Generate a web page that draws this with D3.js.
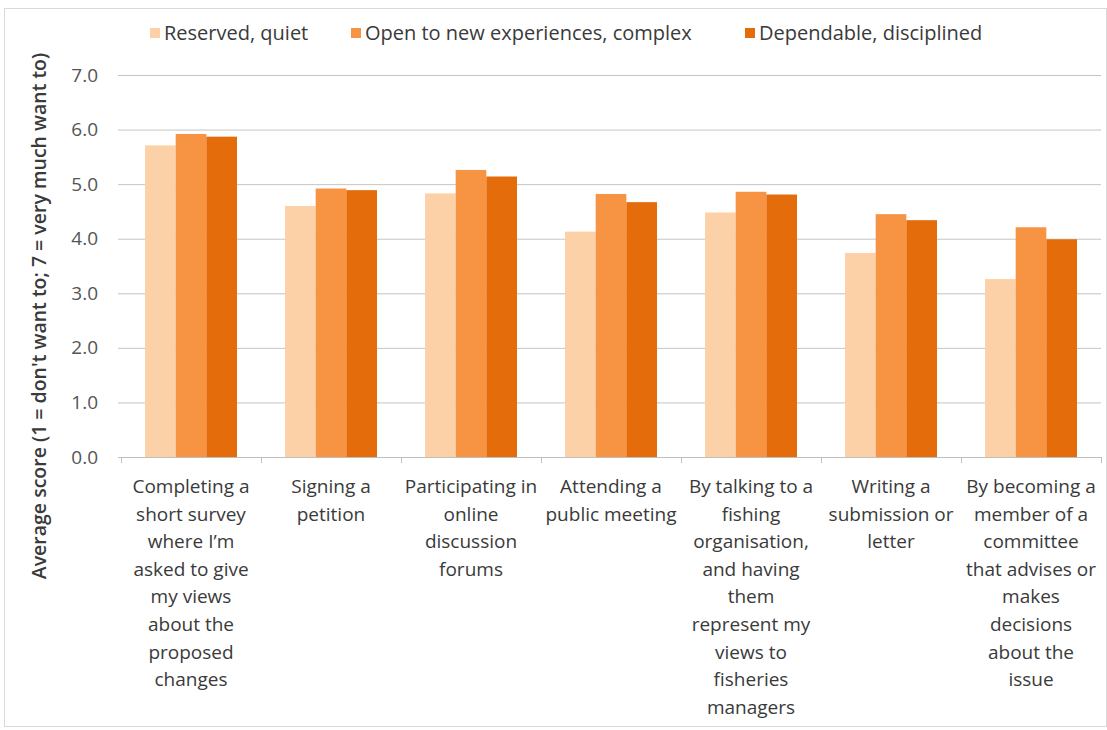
<!DOCTYPE html>
<html>
<head>
<meta charset="utf-8">
<script src="https://cdn.jsdelivr.net/npm/d3@7"></script>
<style>
  html, body { margin: 0; padding: 0; background: #fff; }
  svg { display: block; font-family: "Open Sans", "Noto Sans", sans-serif; }
</style>
</head>
<body>
<svg id="chart" width="1107" height="730"></svg>
<script>
// Activities (category labels, line breaks as drawn under each group)
const categories = [
  "Completing a\nshort survey\nwhere I’m\nasked to give\nmy views\nabout the\nproposed\nchanges",
  "Signing a\npetition",
  "Participating in\nonline\ndiscussion\nforums",
  "Attending a\npublic meeting",
  "By talking to a\nfishing\norganisation,\nand having\nthem\nrepresent my\nviews to\nfisheries\nmanagers",
  "Writing a\nsubmission or\nletter",
  "By becoming a\nmember of a\ncommittee\nthat advises or\nmakes\ndecisions\nabout the\nissue"
];

// Personality groups
const seriesNames = ["Reserved, quiet", "Open to new experiences, complex", "Dependable, disciplined"];
const seriesColors = ["#FCD1A7", "#F79443", "#E46C0A"];

// Average scores per activity
const reservedQuiet         = [5.71, 4.60, 4.83, 4.13, 4.48, 3.74, 3.26];
const openToExperiences     = [5.92, 4.92, 5.26, 4.82, 4.86, 4.45, 4.21];
const dependableDisciplined = [5.87, 4.89, 5.14, 4.67, 4.81, 4.34, 3.99];
const seriesValues = [reservedQuiet, openToExperiences, dependableDisciplined];

const yTicks = [0, 1, 2, 3, 4, 5, 6, 7];
const yTitle = "Average score (1 = don't want to; 7 = very much want to)";

const svg = d3.select("#chart");
const W = 1107, H = 730;
const plot = { left: 121, right: 1101, top: 75, bottom: 457 };
const textColor = "#3a3a3a";

// outer frame
svg.append("rect")
  .attr("x", 4.5).attr("y", 8.5)
  .attr("width", W - 5).attr("height", H - 12)
  .attr("fill", "#fff").attr("stroke", "#d9d9d9").attr("stroke-width", 1);

const x0 = d3.scaleBand()
  .domain(categories)
  .range([plot.left, plot.right])
  .paddingInner(0.343)
  .paddingOuter(0.1715);

const x1 = d3.scaleBand()
  .domain(d3.range(seriesNames.length))
  .range([0, x0.bandwidth()]);

const y = d3.scaleLinear().domain([0, 7]).range([plot.bottom, plot.top]);

// horizontal gridlines + value labels
const yAxis = svg.append("g")
  .attr("transform", `translate(${plot.left},0)`)
  .call(d3.axisLeft(y).tickValues(yTicks).tickFormat(d3.format(".1f"))
    .tickSize(-(plot.right - plot.left)).tickPadding(23));
yAxis.select(".domain").remove();
yAxis.selectAll(".tick line")
  .attr("stroke", "#c4c4c4")
  .attr("x1", -3);
yAxis.selectAll(".tick text")
  .attr("fill", "#555")
  .attr("font-size", 19)
  .attr("font-family", "'Open Sans', sans-serif");

// bars
const groups = svg.append("g").selectAll("g")
  .data(categories)
  .join("g")
  .attr("transform", d => `translate(${x0(d)},0)`);

groups.selectAll("rect")
  .data((d, i) => seriesValues.map((vals, s) => ({ s, v: vals[i] })))
  .join("rect")
  .attr("x", d => x1(d.s))
  .attr("width", x1.bandwidth())
  .attr("y", d => y(d.v))
  .attr("height", d => y(0) - y(d.v))
  .attr("fill", d => seriesColors[d.s]);

// category axis with tick marks between groups
const step = x0.step();
const bounds = d3.range(categories.length + 1).map(i => plot.left + i * step);
const xAxis = svg.append("g");
xAxis.append("line")
  .attr("x1", plot.left).attr("x2", plot.right)
  .attr("y1", y(0) + 0.5).attr("y2", y(0) + 0.5)
  .attr("stroke", "#bfbfbf");
xAxis.selectAll("line.tick")
  .data(bounds)
  .join("line")
  .attr("class", "tick")
  .attr("x1", d => d + 0.5).attr("x2", d => d + 0.5)
  .attr("y1", y(0)).attr("y2", y(0) + 6)
  .attr("stroke", "#bfbfbf");

const lineH = 27.6;
xAxis.selectAll("text")
  .data(categories)
  .join("text")
  .attr("x", d => x0(d) + x0.bandwidth() / 2)
  .attr("y", 493)
  .attr("text-anchor", "middle")
  .attr("fill", textColor)
  .attr("font-size", 19)
  .each(function (d) {
    const t = d3.select(this);
    d.split("\n").forEach((ln, i) => {
      t.append("tspan")
        .attr("x", x0(d) + x0.bandwidth() / 2)
        .attr("dy", i === 0 ? 0 : lineH)
        .text(ln);
    });
  });

// y-axis title
svg.append("text")
  .attr("transform", `translate(46,316) rotate(-90)`)
  .attr("text-anchor", "middle")
  .attr("fill", textColor)
  .attr("font-size", 19.5)
  .attr("font-weight", 600)
  .text(yTitle);

// legend
const legendX = [150, 351, 745];
const legend = svg.append("g").selectAll("g")
  .data(seriesNames)
  .join("g")
  .attr("transform", (d, i) => `translate(${legendX[i]},33)`);
legend.append("rect")
  .attr("x", 0).attr("y", -5)
  .attr("width", 10).attr("height", 10)
  .attr("fill", (d, i) => seriesColors[i]);
legend.append("text")
  .attr("x", 14).attr("y", 7)
  .attr("fill", textColor)
  .attr("font-size", 20)
  .text(d => d);
</script>
</body>
</html>
